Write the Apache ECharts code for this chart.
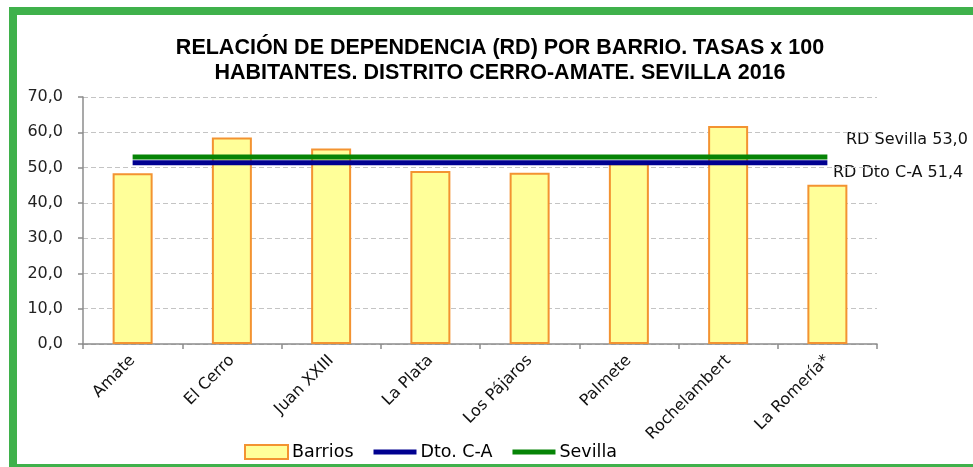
<!DOCTYPE html>
<html>
<head>
<meta charset="utf-8">
<title>Relación de dependencia por barrio</title>
<script src="https://cdn.jsdelivr.net/npm/echarts@6/dist/echarts.min.js"></script>
<style>
  html, body { margin: 0; padding: 0; background: #fff; }
  #chart { width: 973px; height: 467px; }
</style>
</head>
<body>
<div id="chart"></div>
<script>
// --- datos ---
const barrios = ['Amate', 'El Cerro', 'Juan XXIII', 'La Plata', 'Los Pájaros', 'Palmete', 'Rochelambert', 'La Romería*'];
const rdBarrios = [48.4, 58.5, 55.4, 49.0, 48.5, 51.2, 61.8, 45.1];
const rdDistrito = 51.4;
const rdSevilla = 53.0;

const fmt = v => v.toFixed(1).replace('.', ',');
const lineIcon = 'path://M0,0H44V5H0Z';

const chart = echarts.init(document.getElementById('chart'));

const option = {
  animation: false,
  title: {
    text: 'RELACIÓN DE DEPENDENCIA (RD) POR BARRIO. TASAS x 100\nHABITANTES. DISTRITO CERRO-AMATE. SEVILLA 2016',
    left: 495,
    textAlign: 'center',
    top: 31,
    textStyle: {
      fontFamily: "'Liberation Sans', Arial, sans-serif",
      fontWeight: 'bold',
      fontSize: 21.5,
      lineHeight: 25,
      color: '#000'
    }
  },
  legend: {
    left: 244,
    top: 443,
    padding: 0,
    itemWidth: 43,
    itemHeight: 14,
    itemGap: 20,
    symbolKeepAspect: true,
    textStyle: {
      fontFamily: "'DejaVu Sans', sans-serif",
      fontSize: 17.5,
      color: '#000',
      padding: [0, 0, 0, -1]
    },
    data: [
      { name: 'Barrios', icon: 'rect' },
      { name: 'Dto. C-A', icon: lineIcon },
      { name: 'Sevilla', icon: lineIcon }
    ]
  },
  grid: { left: 83, right: 96, top: 97, bottom: 123 },
  xAxis: {
    type: 'category',
    data: barrios,
    axisLine: { lineStyle: { color: '#8c8c8c', width: 1.5 } },
    axisTick: { show: true, length: 5, lineStyle: { color: '#8c8c8c', width: 1.5 } },
    axisLabel: {
      rotate: 45,
      margin: 14,
      interval: 0,
      fontFamily: "'DejaVu Sans', sans-serif",
      fontSize: 16,
      color: '#111'
    }
  },
  yAxis: {
    type: 'value',
    min: 0,
    max: 70,
    interval: 10,
    axisLine: { show: true, lineStyle: { color: '#8c8c8c', width: 1.5 } },
    axisTick: { show: true, length: 5, lineStyle: { color: '#8c8c8c', width: 1.5 } },
    splitLine: { lineStyle: { color: '#c4c4c4', type: [5, 3], width: 1.2 } },
    axisLabel: {
      margin: 20,
      fontFamily: "'DejaVu Sans', sans-serif",
      fontSize: 16,
      color: '#222',
      formatter: v => fmt(v)
    }
  },
  graphic: [
    {
      type: 'rect',
      silent: true,
      shape: { x: 13, y: 11, width: 1000, height: 457 },
      style: { fill: 'none', stroke: '#3fb14b', lineWidth: 8 }
    },
    {
      type: 'text',
      left: 846, top: 132,
      style: { text: 'RD Sevilla ' + fmt(rdSevilla), font: "16px 'DejaVu Sans', sans-serif", fill: '#111' }
    },
    {
      type: 'text',
      left: 833, top: 165,
      style: { text: 'RD Dto C-A ' + fmt(rdDistrito), font: "16px 'DejaVu Sans', sans-serif", fill: '#111' }
    }
  ],
  series: [
    {
      name: 'Barrios',
      type: 'bar',
      data: rdBarrios,
      barWidth: 40,
      itemStyle: { color: '#ffff99', borderColor: '#f39331', borderWidth: 2 }
    },
    {
      name: 'Dto. C-A',
      type: 'line',
      data: barrios.map(() => rdDistrito),
      symbol: 'none',
      lineStyle: { color: '#000090', width: 5 },
      itemStyle: { color: '#000090' },
      z: 3
    },
    {
      name: 'Sevilla',
      type: 'line',
      data: barrios.map(() => rdSevilla),
      symbol: 'none',
      lineStyle: { color: '#068406', width: 5 },
      itemStyle: { color: '#068406' },
      z: 3
    }
  ]
};

chart.setOption(option);
</script>
</body>
</html>
